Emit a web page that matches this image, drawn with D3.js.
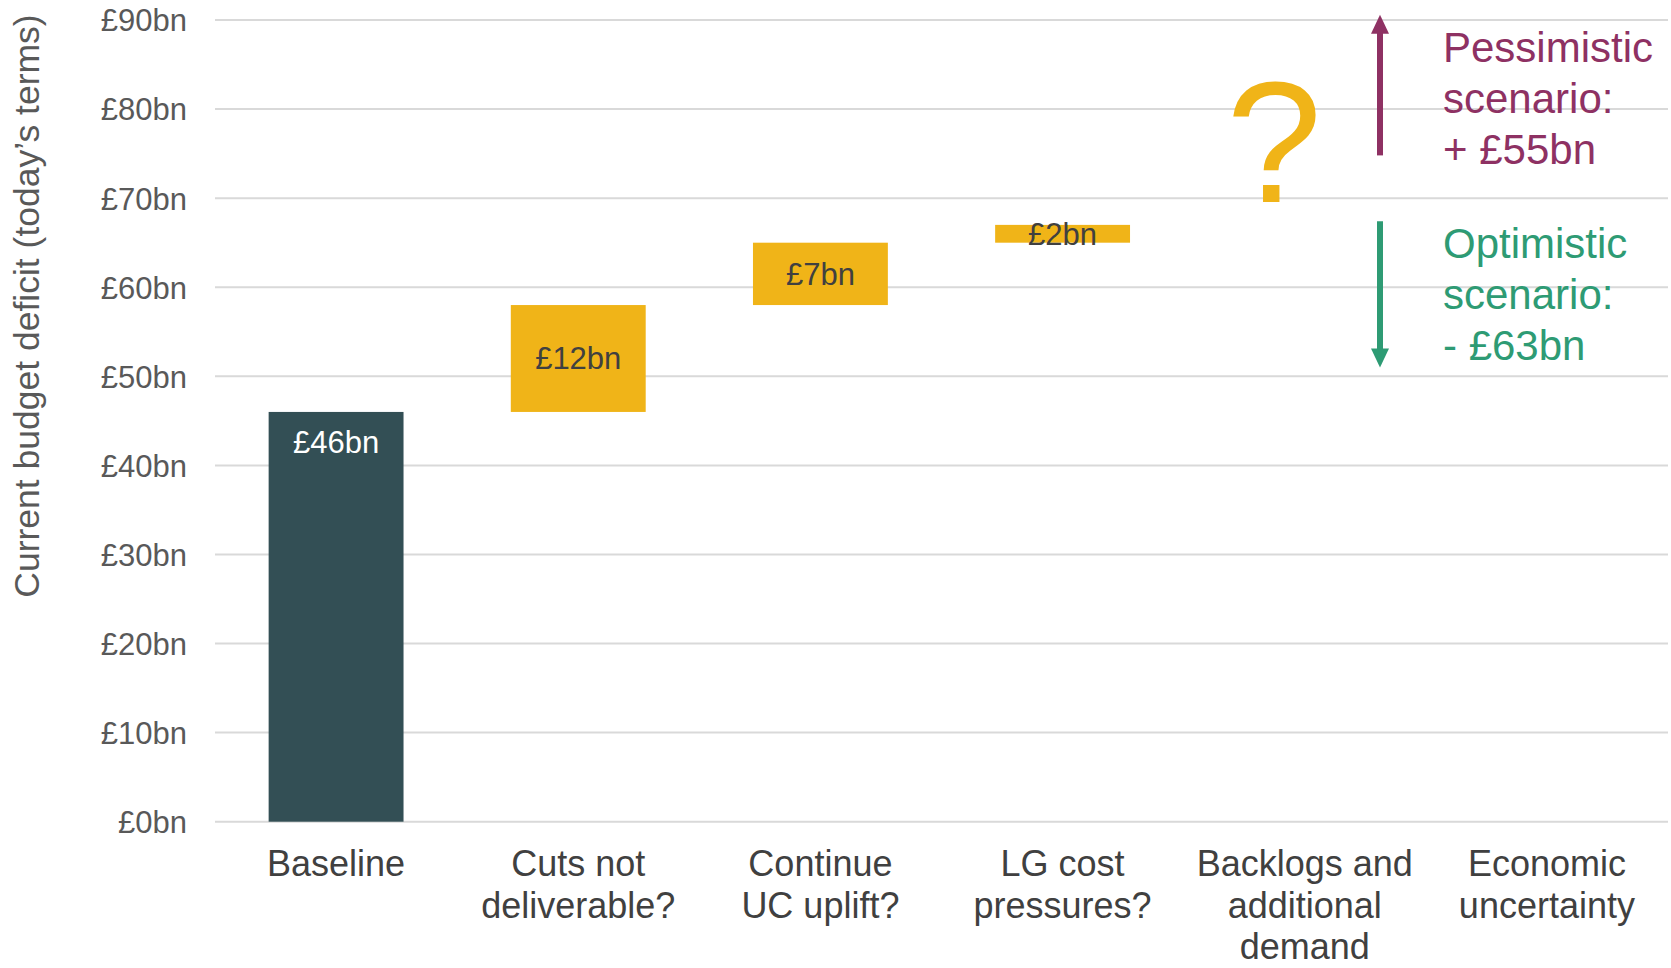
<!DOCTYPE html>
<html>
<head>
<meta charset="utf-8">
<script src="https://cdn.jsdelivr.net/npm/d3@7"></script>
<style>
  html, body { margin: 0; padding: 0; background: #ffffff; }
  svg { display: block; font-family: "Liberation Sans", Arial, sans-serif; }
</style>
</head>
<body>
<svg id="chart" width="1671" height="968"></svg>
<script>
// Categories (multi-line labels) and the waterfall steps
const categories = ["Baseline", "Cuts not deliverable?", "Continue UC uplift?", "LG cost pressures?", "Backlogs and additional demand", "Economic uncertainty"];
const categoryLines = [["Baseline"], ["Cuts not", "deliverable?"], ["Continue", "UC uplift?"], ["LG cost", "pressures?"], ["Backlogs and", "additional", "demand"], ["Economic", "uncertainty"]];
const stepValues = [46, 12, 7, 2];
const stepLabels = ["£46bn", "£12bn", "£7bn", "£2bn"];
const yTicks = [0, 10, 20, 30, 40, 50, 60, 70, 80, 90];

// Scenario annotations
const pessimisticLines = ["Pessimistic", "scenario:", "+ £55bn"];
const optimisticLines = ["Optimistic", "scenario:", "- £63bn"];

const colors = {
  baseline: "#334F55",
  step: "#F0B418",
  grid: "#D9D9D9",
  tick: "#595959",
  category: "#404040",
  pessimistic: "#8E3163",
  optimistic: "#2E9B74"
};

const svg = d3.select("#chart");

const x = d3.scaleBand()
  .domain(categories)
  .range([215, 1668])
  .paddingInner(0.443)
  .paddingOuter(0.2215);

const y = d3.scaleLinear().domain([0, 90]).range([821.7, 20]);

// Gridlines
svg.append("g")
  .selectAll("line")
  .data(yTicks)
  .join("line")
  .attr("x1", 215)
  .attr("x2", 1668)
  .attr("y1", d => y(d))
  .attr("y2", d => y(d))
  .attr("stroke", colors.grid)
  .attr("stroke-width", 2);

// Y axis tick labels
const yAxis = d3.axisLeft(y)
  .tickValues(yTicks)
  .tickSize(0)
  .tickPadding(0)
  .tickFormat(d => "£" + d + "bn");

svg.append("g")
  .attr("transform", "translate(187,0)")
  .call(yAxis)
  .call(g => g.select(".domain").remove())
  .call(g => g.selectAll("text")
    .attr("fill", colors.tick)
    .attr("font-size", 31)
    .attr("font-family", "'Liberation Sans', Arial, sans-serif")
    .attr("dy", "0.35em"));

// Y axis title
svg.append("text")
  .attr("transform", "translate(39,306) rotate(-90)")
  .attr("text-anchor", "middle")
  .attr("font-size", 35.5)
  .attr("fill", colors.tick)
  .text("Current budget deficit (today’s terms)");

// Waterfall bars
let running = 0;
const bars = stepValues.map((v, i) => {
  const start = running;
  running += v;
  return { cat: categories[i], start, end: running, label: stepLabels[i], i };
});

svg.append("g")
  .selectAll("rect")
  .data(bars)
  .join("rect")
  .attr("x", d => x(d.cat))
  .attr("width", x.bandwidth())
  .attr("y", d => y(d.end))
  .attr("height", d => y(d.start) - y(d.end))
  .attr("fill", d => d.i === 0 ? colors.baseline : colors.step);

// Bar value labels
svg.append("g")
  .selectAll("text")
  .data(bars)
  .join("text")
  .attr("x", d => x(d.cat) + x.bandwidth() / 2)
  .attr("y", d => d.i === 0 ? y(d.end) + 30 : (y(d.start) + y(d.end)) / 2)
  .attr("dy", "0.35em")
  .attr("text-anchor", "middle")
  .attr("font-size", 31)
  .attr("fill", d => d.i === 0 ? "#FFFFFF" : colors.category)
  .text(d => d.label);

// Category labels
const catG = svg.append("g")
  .selectAll("text")
  .data(categories)
  .join("text")
  .attr("x", d => x(d) + x.bandwidth() / 2)
  .attr("y", 876)
  .attr("text-anchor", "middle")
  .attr("font-size", 36)
  .attr("fill", colors.category);

catG.selectAll("tspan")
  .data((d, i) => categoryLines[i])
  .join("tspan")
  .attr("x", function () { return d3.select(this.parentNode).attr("x"); })
  .attr("dy", (d, i) => i === 0 ? 0 : 41.5)
  .text(d => d);

// Question mark over the backlogs column
svg.append("text")
  .attr("x", 1274)
  .attr("y", 202)
  .attr("text-anchor", "middle")
  .attr("font-size", 172)
  .attr("fill", colors.step)
  .text("?");

// Scenario arrows
function arrow(xPos, fromVal, toVal, color) {
  const y0 = y(fromVal), y1 = y(toVal);
  const dir = y1 < y0 ? -1 : 1;
  const headLen = 19, headHalf = 9;
  svg.append("line")
    .attr("x1", xPos).attr("x2", xPos)
    .attr("y1", y0).attr("y2", y1 - dir * headLen + dir * 1)
    .attr("stroke", color)
    .attr("stroke-width", 6);
  svg.append("path")
    .attr("d", `M${xPos - headHalf},${y1 - dir * headLen} L${xPos + headHalf},${y1 - dir * headLen} L${xPos},${y1} Z`)
    .attr("fill", color);
}
arrow(1380, 74.8, 90.6, colors.pessimistic);
arrow(1380, 67.4, 51.0, colors.optimistic);

// Scenario text
function scenarioText(lines, yFirst, color) {
  svg.append("g")
    .selectAll("text")
    .data(lines)
    .join("text")
    .attr("x", 1443)
    .attr("y", (d, i) => yFirst + i * 51)
    .attr("font-size", 42)
    .attr("fill", color)
    .text(d => d);
}
scenarioText(pessimisticLines, 62, colors.pessimistic);
scenarioText(optimisticLines, 258, colors.optimistic);
</script>
</body>
</html>
